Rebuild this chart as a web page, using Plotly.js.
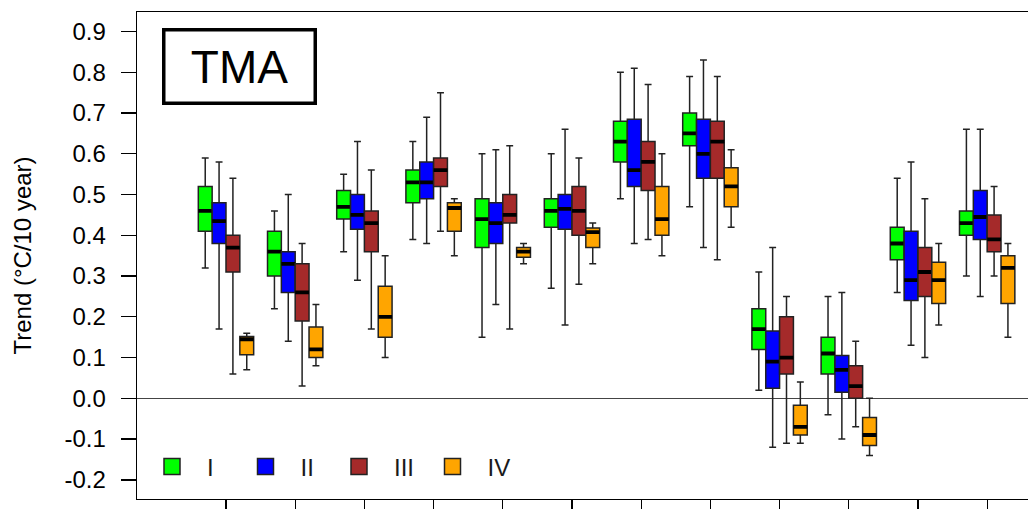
<!DOCTYPE html>
<html><head><meta charset="utf-8">
<script src="https://cdn.plot.ly/plotly-3.0.1.min.js"></script>
<style>html,body{margin:0;padding:0;background:#fff}#chart{width:1028px;height:509px}</style>
</head><body><div id="chart"></div>
<script>
// ---- data ----
const groups = [1,2,3,4,5,6,7,8,9,10,11,12];
const seriesNames = ['I','II','III','IV'];
const seriesColors = ['#00FF00','#0000FF','#A52A2A','#FFA500'];
const yTicks = [-0.2,-0.1,0.0,0.1,0.2,0.3,0.4,0.5,0.6,0.7,0.8,0.9];
const yTickText = ['-0.2','-0.1','0.0','0.1','0.2','0.3','0.4','0.5','0.6','0.7','0.8','0.9'];

// Series I
const lowI  = [0.32,0.22,0.36,0.39,0.15,0.27,0.49,0.47,0.02,-0.04,0.26,0.30];
const q1I   = [0.41,0.30,0.44,0.48,0.37,0.42,0.58,0.62,0.12,0.06,0.34,0.40];
const medI  = [0.46,0.36,0.47,0.53,0.44,0.46,0.63,0.65,0.17,0.11,0.38,0.43];
const q3I   = [0.52,0.41,0.51,0.56,0.49,0.49,0.68,0.70,0.22,0.15,0.42,0.46];
const highI = [0.59,0.46,0.55,0.63,0.60,0.60,0.80,0.79,0.31,0.25,0.54,0.66];
// Series II
const lowII  = [0.17,0.14,0.29,0.38,0.23,0.18,0.38,0.37,-0.12,-0.10,0.13,0.25];
const q1II   = [0.38,0.26,0.415,0.49,0.38,0.415,0.52,0.54,0.025,0.015,0.24,0.39];
const medII  = [0.435,0.33,0.45,0.53,0.43,0.465,0.56,0.60,0.09,0.07,0.29,0.445];
const q3II   = [0.48,0.36,0.50,0.58,0.48,0.50,0.685,0.685,0.165,0.105,0.41,0.51];
const highII = [0.58,0.50,0.63,0.69,0.61,0.66,0.81,0.83,0.37,0.26,0.58,0.66];
// Series III
const lowIII  = [0.06,0.03,0.17,0.41,0.17,0.28,0.39,0.34,-0.11,-0.07,0.10,0.30];
const q1III   = [0.31,0.19,0.36,0.52,0.43,0.40,0.51,0.54,0.06,0.0,0.25,0.36];
const medIII  = [0.37,0.26,0.43,0.56,0.45,0.46,0.58,0.63,0.10,0.03,0.31,0.39];
const q3III   = [0.40,0.33,0.46,0.59,0.50,0.52,0.63,0.68,0.20,0.08,0.37,0.45];
const highIII = [0.54,0.38,0.56,0.75,0.62,0.59,0.77,0.79,0.25,0.14,0.49,0.52];
// Series IV
const lowIV  = [0.07,0.08,0.10,0.35,0.33,0.33,0.35,0.42,-0.11,-0.14,0.18,0.15];
const q1IV   = [0.107,0.10,0.15,0.41,0.346,0.37,0.40,0.47,-0.09,-0.116,0.233,0.233];
const medIV  = [0.145,0.12,0.20,0.467,0.36,0.408,0.44,0.52,-0.07,-0.09,0.29,0.32];
const q3IV   = [0.152,0.175,0.275,0.48,0.37,0.418,0.52,0.566,-0.017,-0.047,0.334,0.35];
const highIV = [0.16,0.23,0.35,0.49,0.38,0.43,0.60,0.61,0.04,0.0,0.38,0.38];

const stats = [
  [lowI, q1I, medI, q3I, highI],
  [lowII, q1II, medII, q3II, highII],
  [lowIII, q1III, medIII, q3III, highIII],
  [lowIV, q1IV, medIV, q3IV, highIV]
];

const FONT = 'Liberation Sans, Arial, sans-serif';
const traces = [];
stats.forEach((s, i) => {
  traces.push({
    type: 'box', x: groups, lowerfence: s[0], q1: s[1], median: s[2], q3: s[3], upperfence: s[4],
    offsetgroup: 'g' + i, fillcolor: seriesColors[i],
    line: {color: '#222222', width: 1.5}, whiskerwidth: 0.5, boxpoints: false,
    showlegend: false, hoverinfo: 'skip', name: seriesNames[i]
  });
  // thick median bar overlay
  traces.push({
    type: 'box', x: groups, lowerfence: s[2], q1: s[2], median: s[2], q3: s[2], upperfence: s[2],
    offsetgroup: 'g' + i, fillcolor: 'rgba(0,0,0,0)',
    line: {color: '#000000', width: 3.8}, whiskerwidth: 0, boxpoints: false,
    showlegend: false, hoverinfo: 'skip', name: seriesNames[i]
  });
});
// legend entries
seriesNames.forEach((n, i) => {
  traces.push({
    type: 'scatter', mode: 'markers', x: [null], y: [null], name: n,
    marker: {symbol: 'square', size: 18, color: seriesColors[i], line: {color: '#222222', width: 1.5}},
    showlegend: true, hoverinfo: 'skip'
  });
});

const layout = {
  width: 1028, height: 509,
  margin: {l: 137, r: 0, t: 12, b: 10},
  paper_bgcolor: '#ffffff', plot_bgcolor: '#ffffff',
  font: {family: FONT, color: '#000000'},
  boxmode: 'group', boxgap: 0.2, boxgroupgap: 0,
  showlegend: true,
  legend: {
    orientation: 'h', x: 0, xanchor: 'left', y: 0.066, yanchor: 'middle',
    font: {family: FONT, size: 24, color: '#1a1a1a'},
    itemwidth: 60, entrywidth: 18.5, entrywidthmode: 'pixels',
    bgcolor: 'rgba(0,0,0,0)', borderwidth: 0
  },
  xaxis: {
    range: [-0.286, 12.59], tickvals: groups, showticklabels: false,
    ticks: 'outside', ticklen: 10, tickwidth: 1.3, tickcolor: '#000',
    showline: true, linecolor: '#000', linewidth: 1.3, mirror: true,
    showgrid: false, zeroline: false, fixedrange: true
  },
  yaxis: {
    range: [-0.247, 0.948], tickvals: yTicks, ticktext: yTickText,
    ticks: 'outside', ticklen: 15, tickwidth: 1.3, tickcolor: '#000',
    tickfont: {family: FONT, size: 24, color: '#000'}, ticklabelstandoff: 10,
    showline: true, linecolor: '#000', linewidth: 1.3, mirror: false,
    showgrid: false, zeroline: true, zerolinecolor: '#444', zerolinewidth: 1.3,
    title: {text: 'Trend (°C/10 year)', font: {family: FONT, size: 24, color: '#000'}, standoff: 26},
    fixedrange: true
  },
  annotations: [{
    xref: 'paper', yref: 'paper', x: 0.1156, y: 0.889, xanchor: 'center', yanchor: 'middle',
    text: 'TMA', showarrow: false, font: {family: FONT, size: 46, color: '#000'},
    width: 148, height: 70, bordercolor: '#000', borderwidth: 3.5, bgcolor: '#fff', borderpad: 0
  }]
};

Plotly.newPlot('chart', traces, layout, {displayModeBar: false, staticPlot: true});
</script>
</body></html>
